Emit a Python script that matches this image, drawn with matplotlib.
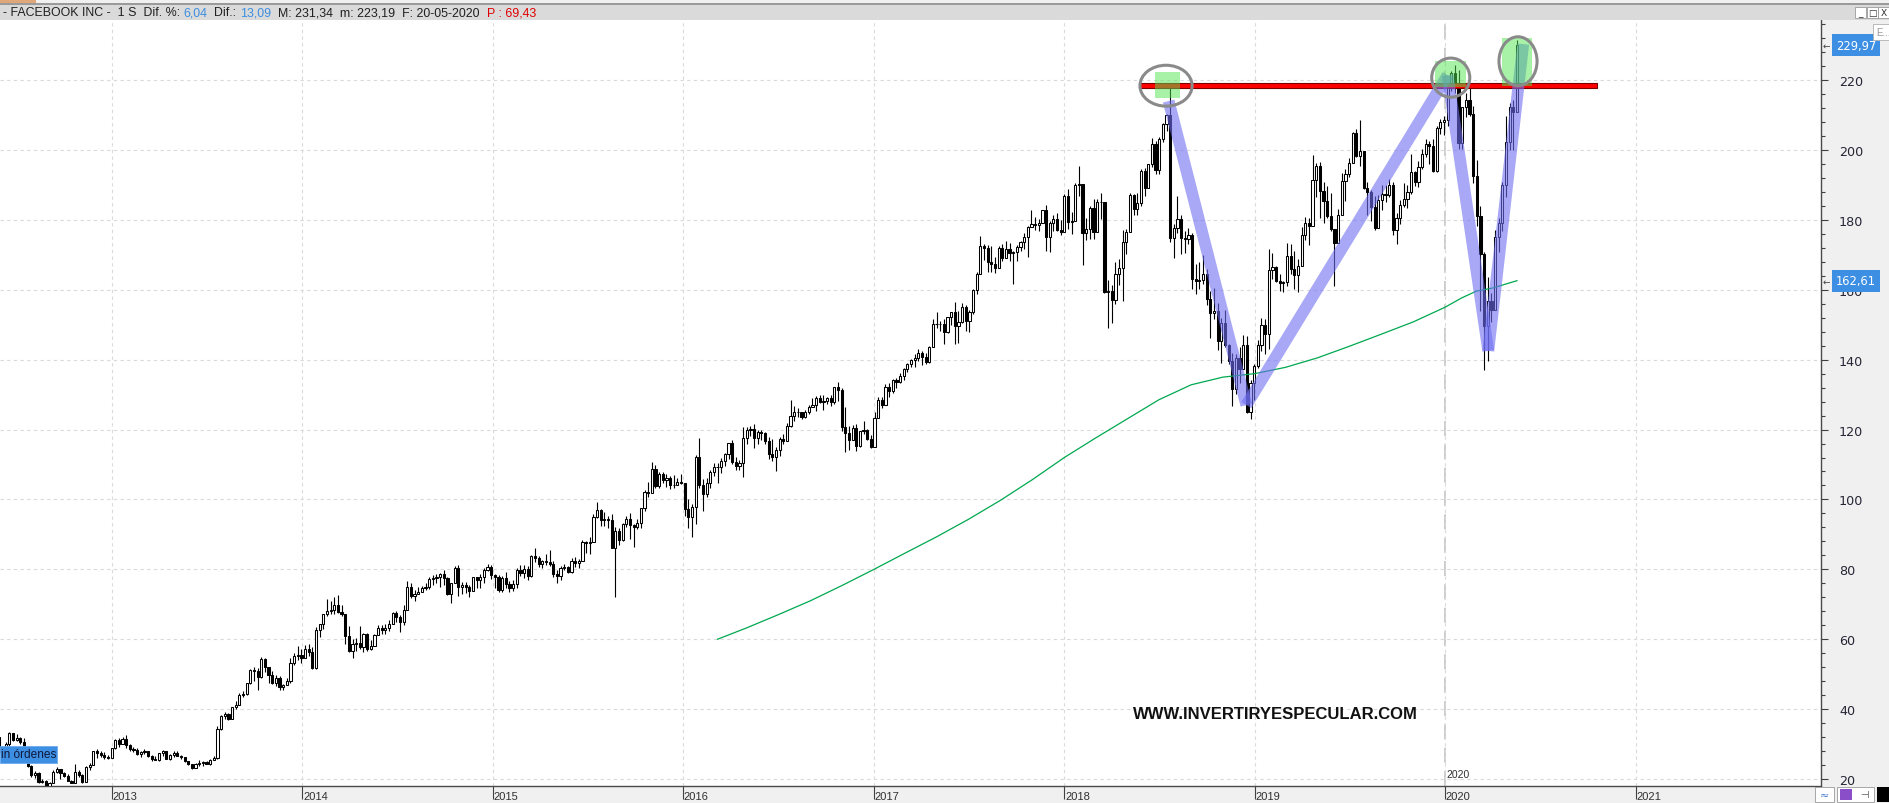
import numpy as np
import pandas as pd
import matplotlib
matplotlib.use("Agg")
import matplotlib.pyplot as plt
import matplotlib.dates as mdates
import matplotlib.transforms as mtransforms
from matplotlib.patches import Rectangle, Ellipse

# FACEBOOK INC, weekly candles: (high, low, close)
# each week is placed on its monday; open = previous close
IPO_OPEN = 42.05

W2012 = [(45.00, 38.00, 38.23), (36.66, 31.36, 31.91), (32.00, 27.45, 27.72), (28.20, 25.52, 27.10),
         (30.45, 26.84, 30.01), (33.45, 29.50, 33.05), (33.25, 30.75, 31.10), (32.90, 30.94, 31.73),
         (32.10, 30.00, 30.72), (31.60, 28.50, 28.76), (29.50, 23.55, 23.71), (23.95, 20.60, 21.09),
         (22.20, 20.38, 21.81), (22.00, 19.00, 19.05), (20.10, 18.75, 19.41), (19.60, 17.55, 18.06),
         (19.25, 17.73, 18.98), (22.50, 18.90, 21.87), (23.37, 21.85, 22.86), (22.90, 20.10, 21.66),
         (22.10, 20.50, 20.91), (21.50, 19.40, 19.52), (19.85, 18.80, 19.00), (24.25, 19.30, 21.94),
         (22.50, 20.70, 21.18), (21.50, 18.87, 19.21), (23.70, 19.30, 23.56), (24.50, 22.60, 24.00),
         (28.12, 24.10, 28.00), (28.50, 26.00, 27.49), (28.00, 26.30, 26.81), (27.80, 25.80, 26.26),
         (26.90, 25.60, 25.91)]

W2013 = [(28.93, 26.11, 28.76), (31.45, 28.65, 31.30), (31.71, 29.04, 30.14), (32.11, 30.10, 31.54),
         (32.51, 28.74, 29.73), (29.92, 27.97, 28.55), (29.05, 27.66, 28.32), (28.75, 26.84, 27.13),
         (28.10, 26.34, 27.78), (28.66, 27.25, 27.96), (28.06, 26.28, 26.65), (26.99, 25.26, 25.73),
         (26.45, 25.52, 25.58), (27.55, 25.13, 27.39), (28.34, 26.60, 28.02), (28.11, 25.71, 25.73),
         (27.19, 25.56, 26.85), (28.15, 26.27, 27.57), (27.88, 26.52, 26.68), (26.92, 25.84, 26.25),
         (26.42, 24.73, 25.10), (25.28, 23.90, 24.35), (24.38, 22.79, 23.29), (24.55, 23.39, 24.37),
         (25.40, 23.73, 24.53), (25.04, 23.85, 24.88), (25.08, 24.22, 24.37), (25.83, 24.14, 25.48),
         (26.54, 25.39, 25.88), (35.20, 25.81, 34.36), (38.31, 34.05, 38.05), (39.16, 37.22, 38.50),
         (38.76, 36.80, 37.08), (40.69, 37.06, 40.55), (42.26, 40.05, 41.29), (44.71, 41.50, 43.95),
         (45.08, 43.51, 44.31), (47.60, 44.15, 47.49), (51.60, 47.19, 51.24), (51.94, 48.00, 51.04),
         (51.79, 45.50, 49.11), (54.83, 48.88, 54.22), (54.70, 50.59, 51.95), (51.28, 47.35, 49.75),
         (50.90, 47.20, 47.53), (49.66, 46.54, 49.01), (49.40, 45.53, 46.23), (47.21, 45.53, 47.01),
         (48.97, 46.78, 47.94), (54.60, 47.36, 53.32), (55.96, 52.73, 55.12), (57.96, 53.98, 55.44)]

W2014 = [(57.20, 53.32, 54.56), (58.41, 54.52, 57.22), (58.58, 55.32, 56.30), (57.87, 51.60, 51.73),
         (63.37, 51.35, 62.57), (64.40, 60.50, 64.32), (67.30, 63.00, 67.09), (71.44, 66.56, 68.06),
         (71.00, 67.30, 68.46), (72.03, 67.11, 69.80), (72.59, 67.56, 67.72), (69.90, 66.61, 67.24),
         (67.21, 58.53, 60.97), (63.91, 56.27, 56.75), (60.13, 54.66, 58.53), (60.42, 56.50, 58.94),
         (63.71, 57.19, 57.71), (61.79, 56.26, 61.48), (61.71, 56.51, 57.24), (59.80, 56.80, 58.02),
         (61.48, 57.98, 61.35), (64.04, 61.38, 63.30), (64.16, 61.60, 62.50), (64.43, 61.46, 63.19),
         (65.64, 62.46, 64.50), (67.92, 64.53, 67.60), (68.00, 64.92, 66.29), (66.93, 62.21, 64.97),
         (69.69, 64.00, 68.42), (76.74, 69.00, 74.98), (75.99, 71.91, 72.36), (73.98, 70.89, 73.06),
         (74.88, 72.88, 73.63), (75.11, 73.43, 74.57), (75.99, 74.18, 74.82), (77.75, 74.30, 77.26),
         (78.49, 75.65, 77.48), (78.62, 76.21, 77.91), (79.06, 74.83, 78.78), (79.68, 75.60, 77.44),
         (77.74, 72.53, 72.91), (75.95, 70.32, 75.95), (80.90, 76.33, 80.42), (81.16, 72.51, 74.99),
         (76.49, 73.07, 75.60), (76.36, 73.35, 74.88), (75.45, 72.16, 73.75), (77.70, 73.81, 77.70),
         (77.94, 74.71, 76.84), (78.70, 74.59, 77.73), (80.48, 76.08, 79.88), (81.45, 79.51, 80.77)]

W2015 = [(81.16, 77.20, 78.45), (78.73, 74.61, 77.74), (78.42, 73.55, 74.05), (78.00, 73.57, 77.65),
         (79.22, 74.58, 75.91), (76.55, 73.45, 74.60), (76.81, 73.72, 75.74), (80.34, 74.74, 79.90),
         (81.37, 78.14, 78.97), (81.16, 77.63, 80.01), (81.00, 76.89, 78.05), (84.23, 77.70, 83.80),
         (86.07, 82.09, 83.30), (83.72, 80.70, 81.56), (82.81, 80.37, 82.32), (84.48, 81.30, 82.04),
         (85.60, 80.86, 81.62), (82.39, 77.69, 78.67), (79.84, 76.21, 78.10), (80.99, 77.06, 80.41),
         (81.48, 79.81, 80.55), (81.08, 79.00, 79.19), (83.24, 79.00, 82.44), (83.41, 80.54, 81.91),
         (82.92, 80.52, 82.51), (88.40, 82.84, 87.88), (88.13, 84.70, 87.55), (89.20, 84.47, 87.95),
         (95.70, 88.41, 94.97), (99.24, 94.79, 96.95), (97.21, 92.38, 94.01), (96.50, 92.44, 94.30),
         (95.15, 91.92, 94.21), (95.81, 86.03, 86.06), (92.00, 72.00, 91.01), (91.97, 86.92, 88.26),
         (93.15, 88.08, 92.90), (95.39, 92.00, 94.40), (96.20, 88.58, 92.77), (92.95, 86.50, 92.07),
         (94.50, 91.55, 93.24), (97.64, 91.72, 97.54), (102.59, 96.60, 102.19), (105.12, 100.60, 101.97),
         (110.65, 101.80, 108.76), (109.82, 103.32, 103.95), (107.89, 103.37, 107.32), (107.95, 104.57, 105.45),
         (107.17, 103.70, 106.18), (106.79, 102.85, 104.04), (107.00, 103.22, 104.04), (106.00, 104.04, 105.02),
         (107.36, 104.45, 104.66)]

W2016 = [(102.24, 95.40, 97.33), (100.24, 91.86, 94.97), (98.65, 89.37, 97.94), (112.84, 92.86, 112.21),
         (117.59, 103.40, 104.07), (105.85, 96.82, 101.61), (106.27, 100.75, 104.57), (108.29, 103.20, 107.92),
         (110.35, 106.75, 109.41), (110.31, 104.80, 109.36), (111.82, 107.48, 111.02), (113.25, 109.54, 112.95),
         (116.17, 111.60, 116.06), (116.98, 110.28, 110.63), (112.25, 108.51, 109.64), (111.29, 108.57, 110.56),
         (120.79, 106.31, 117.58), (120.75, 116.01, 119.81), (121.08, 118.28, 120.30), (121.59, 114.74, 117.65),
         (119.96, 115.97, 119.38), (119.75, 117.01, 118.93), (119.44, 115.90, 116.62), (117.85, 111.50, 113.02),
         (117.22, 110.95, 112.08), (114.97, 108.23, 114.19), (117.75, 112.47, 117.24), (118.69, 115.92, 116.86),
         (121.92, 116.69, 121.00), (128.33, 120.80, 123.94), (126.74, 122.32, 125.15), (126.08, 123.56, 124.96),
         (125.16, 122.90, 123.56), (125.48, 123.42, 124.96), (127.00, 124.44, 126.51), (129.12, 127.09, 127.10),
         (129.69, 125.41, 129.07), (130.00, 127.49, 127.96), (129.79, 125.62, 128.27), (129.23, 127.45, 128.99),
         (130.00, 126.88, 127.88), (132.23, 127.34, 132.07), (133.50, 128.11, 131.29), (131.94, 119.64, 120.75),
         (126.50, 113.55, 119.02), (120.96, 114.26, 117.02), (121.17, 117.24, 120.38), (121.50, 114.00, 115.40),
         (119.68, 115.03, 119.68), (122.50, 118.77, 119.87), (120.24, 116.98, 117.26), (118.41, 114.77, 115.05)]

W2017 = [(124.96, 115.51, 123.41), (129.27, 123.38, 128.34), (129.25, 126.08, 127.04), (133.14, 127.14, 132.18),
         (133.23, 129.29, 130.98), (134.49, 130.32, 134.19), (134.83, 131.78, 133.53), (136.18, 133.31, 135.44),
         (137.48, 134.24, 137.42), (139.03, 136.36, 138.71), (140.15, 137.79, 139.84), (141.62, 137.86, 140.34),
         (142.94, 139.73, 142.05), (142.44, 138.59, 140.78), (141.85, 138.78, 139.39), (143.90, 139.09, 143.68),
         (151.53, 143.99, 150.25), (153.60, 149.03, 150.24), (151.05, 148.24, 150.33), (151.52, 144.42, 148.06),
         (152.25, 147.56, 152.13), (153.63, 149.93, 153.63), (156.50, 144.56, 149.60), (153.84, 144.90, 150.64),
         (156.16, 150.57, 155.07), (155.65, 148.21, 150.98), (154.25, 147.80, 153.67), (160.12, 153.13, 159.97),
         (165.00, 158.85, 164.43), (175.49, 164.52, 172.45), (173.05, 168.42, 171.97), (172.73, 165.03, 168.08),
         (172.49, 164.96, 167.41), (169.40, 164.67, 166.32), (172.48, 166.33, 172.02), (173.00, 168.11, 169.15),
         (174.00, 169.23, 171.64), (173.49, 168.18, 170.54), (171.00, 161.56, 170.87), (172.94, 168.20, 172.23),
         (174.00, 171.02, 173.74), (176.25, 171.80, 174.98), (178.24, 169.34, 177.88), (182.90, 178.14, 178.92),
         (180.80, 177.09, 178.46), (180.29, 176.93, 179.00), (182.90, 180.44, 182.78), (184.25, 171.22, 175.10),
         (179.65, 170.80, 179.00), (181.48, 176.69, 180.18), (181.90, 176.84, 177.20), (179.84, 175.60, 176.46)]

W2018 = [(187.40, 177.68, 186.85), (188.90, 177.51, 179.37), (182.37, 176.03, 179.80), (190.66, 180.79, 190.00),
         (195.32, 186.91, 190.28), (190.27, 167.18, 176.11), (180.50, 174.37, 177.36), (183.99, 174.44, 183.29),
         (186.10, 174.53, 176.62), (185.90, 176.60, 185.23), (187.57, 180.22, 185.09), (177.17, 159.02, 159.39),
         (162.93, 149.02, 159.79), (161.42, 150.42, 157.20), (167.91, 155.82, 164.52), (168.87, 161.50, 166.28),
         (177.10, 156.80, 173.59), (177.50, 170.23, 176.61), (187.67, 177.41, 186.99), (187.46, 181.41, 183.20),
         (187.73, 181.30, 184.92), (194.53, 184.00, 193.99), (194.87, 186.82, 189.10), (195.85, 189.57, 195.85),
         (203.55, 195.11, 201.74), (202.49, 193.12, 194.32), (203.64, 193.23, 203.23), (207.80, 202.32, 207.32),
         (210.16, 205.38, 209.94), (218.62, 173.75, 174.89), (178.85, 169.00, 177.78), (186.79, 176.30, 180.26),
         (181.33, 170.27, 174.70), (176.79, 170.51, 174.65), (177.62, 172.99, 175.73), (176.20, 160.20, 163.04),
         (167.44, 158.87, 162.53), (167.99, 160.35, 162.93), (170.00, 161.70, 164.46), (165.88, 155.51, 157.33),
         (159.66, 146.22, 153.35), (160.55, 151.52, 154.05), (156.25, 142.82, 145.37), (151.99, 139.03, 150.35),
         (154.13, 143.70, 144.22), (144.50, 138.87, 139.53), (141.94, 126.85, 131.73), (141.50, 130.28, 140.61),
         (143.66, 133.45, 137.42), (147.19, 138.72, 144.06), (146.71, 124.72, 124.95), (134.24, 123.02, 133.20)]

W2019 = [(138.69, 128.56, 138.05), (145.67, 137.51, 144.20), (152.05, 142.53, 150.04), (151.51, 141.49, 147.47),
         (171.68, 143.03, 165.71), (170.66, 163.11, 166.38), (166.68, 162.31, 162.50), (164.50, 159.59, 161.89),
         (162.43, 159.32, 162.28), (173.32, 161.22, 169.60), (173.19, 164.58, 165.98), (171.04, 160.27, 164.34),
         (168.79, 159.28, 166.69), (177.95, 167.46, 175.72), (180.73, 174.20, 179.10), (180.62, 172.84, 178.28),
         (198.48, 178.21, 191.49), (196.18, 186.62, 195.47), (196.50, 180.54, 188.34), (190.90, 179.04, 185.30),
         (189.74, 180.54, 181.06), (187.58, 176.90, 177.47), (175.96, 161.01, 173.35), (183.20, 173.34, 181.33),
         (193.50, 182.75, 191.14), (194.52, 185.28, 193.00), (197.69, 192.24, 196.40), (205.09, 196.23, 204.87),
         (206.00, 198.08, 198.36), (208.66, 195.30, 199.75), (199.00, 188.94, 189.02), (190.81, 181.28, 187.85),
         (188.56, 179.68, 183.70), (186.95, 177.22, 177.75), (187.00, 178.21, 185.67), (189.89, 182.94, 187.49),
         (189.99, 185.22, 187.19), (191.75, 186.52, 189.93), (190.91, 175.66, 177.10), (182.00, 173.10, 180.45),
         (185.65, 178.96, 184.19), (190.43, 183.57, 185.85), (189.99, 183.31, 187.89), (198.91, 187.46, 193.62),
         (193.98, 189.65, 190.84), (196.85, 189.55, 195.10), (200.23, 194.49, 198.82), (203.14, 197.94, 201.64),
         (202.49, 195.93, 201.05), (203.14, 193.64, 194.11), (206.79, 193.68, 206.30), (208.93, 204.72, 208.10)]

W2020 = [(209.79, 204.25, 208.67), (218.88, 206.91, 218.30), (222.56, 216.93, 222.14), (224.20, 216.43, 217.94),
         (223.00, 200.42, 201.91), (211.82, 200.37, 212.33), (216.18, 209.57, 214.18), (218.77, 209.75, 210.18),
         (212.53, 190.56, 192.47), (197.13, 178.18, 181.09), (183.85, 153.89, 170.28), (170.85, 137.10, 149.73),
         (163.73, 139.50, 156.79), (159.10, 150.83, 154.18), (177.13, 160.20, 175.19), (180.56, 170.89, 179.24),
         (190.88, 176.90, 190.07), (209.69, 186.60, 202.27), (213.40, 200.04, 212.35), (214.27, 200.10, 210.88),
         (231.34, 211.32, 229.97)]

YEARS = [(W2012, "2012-05-14"), (W2013, "2012-12-31"), (W2014, "2013-12-30"), (W2015, "2014-12-29"),
         (W2016, "2016-01-04"), (W2017, "2017-01-02"), (W2018, "2018-01-01"), (W2019, "2018-12-31"),
         (W2020, "2019-12-30")]

# green moving average
MA_DATES = ["2016-03-07", "2016-05-01", "2016-07-01", "2016-09-01", "2016-11-01", "2017-01-01",
            "2017-03-01", "2017-05-01", "2017-07-01", "2017-09-01", "2017-11-01", "2018-01-01",
            "2018-03-01", "2018-05-01", "2018-07-01", "2018-09-01", "2018-11-01", "2019-01-01",
            "2019-03-01", "2019-05-01", "2019-07-01", "2019-09-01", "2019-11-01", "2020-01-01",
            "2020-02-01", "2020-03-01", "2020-04-01", "2020-05-18"]
MA_VALUES = [60.0, 63.2, 67.0, 71.0, 75.4, 80.0,
             84.6, 89.3, 94.3, 99.8, 105.7, 112.0,
             117.5, 123.0, 128.5, 132.8, 135.0, 136.0,
             137.8, 140.5, 143.8, 147.3, 150.8, 155.0,
             157.6, 159.6, 160.5, 162.6]

YEAR_TICKS = [2013, 2014, 2015, 2016, 2017, 2018, 2019, 2020, 2021]

HEADER = [("- FACEBOOK INC -  1 S  Dif. %: ", "#202020"), ("6,04", "#3a8ee0"), ("  Dif.: ", "#202020"),
          ("13,09", "#3a8ee0"), ("  M: 231,34  m: 223,19  F: 20-05-2020  ", "#202020"), ("P : 69,43", "#e00000")]
LAST_TAG = "229,97"
MA_TAG = "162,61"

# drawings on the chart
RES_START, RES_END, RES_LO, RES_HI = "2018-05-26", "2020-10-19", 217.6, 219.05
TREND = [("2018-07-20", 214.0), ("2018-12-16", 127.0), ("2020-01-06", 221.4),
         ("2020-03-24", 142.5), ("2020-05-30", 230.3)]
SQUARES = [("2018-06-24", "2018-08-11", 214.8, 222.3),
           ("2019-12-12", "2020-02-10", 218.0, 225.4),
           ("2020-04-20", "2020-06-15", 218.3, 232.0)]
CIRCLES = [("2018-07-15", 218.4, 100, 11.7),
           ("2020-01-12", 220.7, 73, 11.2),
           ("2020-05-20", 225.4, 73, 14.0)]

W, H, DPI = 1890, 804, 100
FONT = "Liberation Sans"


def build_frame():
    frames = []
    for rows, start in YEARS:
        idx = pd.date_range(start, periods=len(rows), freq="7D")
        frames.append(pd.DataFrame(rows, index=idx, columns=["high", "low", "close"]))
    df = pd.concat(frames)
    df["open"] = df["close"].shift(1).fillna(IPO_OPEN)
    return df


def dn(s):
    return mdates.date2num(pd.Timestamp(s))


def px(x, y):
    return x / W, 1 - y / H


def fig_box(fig, x0, y0, x1, y1, **kw):
    fig.patches.append(Rectangle(px(x0, y1), (x1 - x0) / W, (y1 - y0) / H,
                                 transform=fig.transFigure, **kw))


def main():
    df = build_frame()
    fig = plt.figure(figsize=(W / DPI, H / DPI), dpi=DPI, facecolor="#f0f0f0")
    ax = fig.add_axes([0, (H - 787) / H, 1821 / W, (787 - 21) / H], facecolor="white")

    x = mdates.date2num(df.index)
    up = (df["close"] >= df["open"]).values
    body = (df["close"] - df["open"]).values
    ax.vlines(x, df["low"], df["high"], color="black", lw=0.8, zorder=3)
    ax.bar(x[up], body[up], bottom=df["open"].values[up], width=4.2, color="white",
           edgecolor="black", lw=0.75, zorder=4)
    ax.bar(x[~up], body[~up], bottom=df["open"].values[~up], width=4.2, color="black",
           edgecolor="black", lw=0.75, zorder=4)
    ax.plot([dn(d) for d in MA_DATES], MA_VALUES, color="#00a84f", lw=0.9, zorder=5)

    # resistance line
    ax.add_patch(Rectangle((dn(RES_START), RES_LO), dn(RES_END) - dn(RES_START), RES_HI - RES_LO,
                           facecolor="#ff0000", edgecolor="#7a0000", lw=0.8, zorder=6))
    # zig-zag
    tx = [dn(d) for d, _ in TREND]
    ty = [p for _, p in TREND]
    for i in range(len(tx) - 1):
        ax.plot(tx[i:i + 2], ty[i:i + 2], color="#6e6ef2", alpha=0.6, lw=8.5,
                solid_capstyle="butt", zorder=7)
    for d0, d1, lo, hi in SQUARES:
        ax.add_patch(Rectangle((dn(d0), lo), dn(d1) - dn(d0), hi - lo, facecolor="#50e650",
                               alpha=0.5, lw=0, zorder=8))
    for d, p, wd, ht in CIRCLES:
        ax.add_patch(Ellipse((dn(d), p), wd, ht, facecolor="none", edgecolor="#8a8a8a",
                             lw=2.2, zorder=9))

    ax.set_xlim(dn("2012-05-31"), dn("2021-12-22"))
    ax.set_ylim(18.0, 237.2)

    ax.yaxis.tick_right()
    ax.set_yticks(np.arange(20, 221, 20))
    ax.set_yticks(np.arange(20, 237, 4), minor=True)
    ax.tick_params(axis="y", which="major", length=5, width=0.8, color="#404040", pad=8,
                   labelsize=9.2, labelcolor="#252535")
    ax.tick_params(axis="y", which="minor", length=3, width=0.8, color="#404040")
    for lbl in ax.get_yticklabels():
        lbl.set_family("DejaVu Sans")

    yt = [dn(f"{y}-01-01") for y in YEAR_TICKS]
    ax.set_xticks(yt)
    ax.set_xticklabels([])
    ax.tick_params(axis="x", length=9, width=0.8, color="#404040")
    trans = mtransforms.blended_transform_factory(ax.transData, ax.transAxes)
    for y, t in zip(YEAR_TICKS, yt):
        ax.text(t + 1.5, -0.0125, str(y), transform=trans, ha="left", va="center",
                fontsize=8, family=FONT, color="#303030", clip_on=False)

    ax.grid(True, axis="both", color="#dadada", lw=0.8, linestyle=(0, (3, 3)), zorder=0)
    ax.axvline(dn("2020-01-01"), color="#c4c4c4", lw=1.2, linestyle=(0, (9, 5)), zorder=1)
    ax.text(dn("2020-01-01") + 2, 21.5, "2020", fontsize=7.5, family=FONT, color="#303030",
            ha="left", va="center", zorder=2)

    for side in ["top", "left"]:
        ax.spines[side].set_visible(False)
    for side in ["right", "bottom"]:
        ax.spines[side].set_color("#4a4a4a")
        ax.spines[side].set_linewidth(1.0)

    # header bar
    fig_box(fig, 0, 4, W, 21, facecolor="#dadada", edgecolor="none", zorder=0)
    fig_box(fig, 0, 4, W, 5.5, facecolor="#9a9a9a", edgecolor="none", zorder=1)
    fig_box(fig, 0, 0, 36, 4, facecolor="#e0a878", edgecolor="none", zorder=1)
    renderer = fig.canvas.get_renderer()
    xpos = 3
    for txt, col in HEADER:
        t = fig.text(*px(xpos, 13.5), txt, color=col, fontsize=8.9, family=FONT, ha="left", va="center")
        xpos += t.get_window_extent(renderer).width

    # window buttons and little box top right
    for i, g in enumerate(["_", "□", "X"]):
        x0 = 1855 + i * 11.7
        fig_box(fig, x0, 8, x0 + 11, 19, facecolor="white", edgecolor="#9a9a9a", lw=0.6, zorder=2)
        fig.text(*px(x0 + 5.5, 13.5), g, fontsize=6.5, ha="center", va="center", color="#303030", zorder=3)
    fig_box(fig, 1873, 25, 1893, 41, facecolor="white", edgecolor="#b0b0b0", lw=0.6, zorder=2)
    fig.text(*px(1876, 33), "E...", fontsize=7, family=FONT, color="#9a9a9a", ha="left", va="center", zorder=3)

    # value tags on price axis
    tag_tr = mtransforms.blended_transform_factory(fig.transFigure, ax.transData)
    for val, txt in [(df["close"].iloc[-1], LAST_TAG), (MA_VALUES[-1], MA_TAG)]:
        ax.add_patch(Rectangle((1832 / W, val - 3.2), 48 / W, 6.4, transform=tag_tr, facecolor="#3d8fe3",
                               edgecolor="none", clip_on=False, zorder=10))
        ax.text(1856 / W, val, txt, transform=tag_tr, ha="center", va="center", color="white",
                fontsize=8.3, family="DejaVu Sans", clip_on=False, zorder=11)
        ax.text(1826 / W, val, "←", transform=tag_tr, ha="center", va="center", color="#404040",
                fontsize=6.5, clip_on=False, zorder=11)

    # "sin ordenes" label bottom left
    fig_box(fig, 0, 747, 57, 764, facecolor="#3d8fe3", edgecolor="#6aa9ee", lw=0.6, zorder=5)
    fig.text(*px(1, 755.5), "in órdenes", fontsize=8.6, family=FONT, color="#10183a",
             ha="left", va="center", zorder=6)

    # watermark
    fig.text(*px(1133, 715), "WWW.INVERTIRYESPECULAR.COM", fontsize=12, family=FONT,
             weight="bold", color="#111111", ha="left", va="center", zorder=6)

    # icons bottom right
    fig_box(fig, 1815, 788, 1834, 803, facecolor="white", edgecolor="#9a9a9a", lw=0.6, zorder=2)
    fig.text(*px(1824.5, 795.5), "≈", fontsize=8, ha="center", va="center", color="#4a7fd0", zorder=3)
    fig_box(fig, 1837, 788, 1874, 803, facecolor="white", edgecolor="#9a9a9a", lw=0.6, zorder=2)
    fig_box(fig, 1840, 790, 1852, 801, facecolor="#8a4fc8", edgecolor="none", zorder=3)
    fig.text(*px(1864, 795.5), "⊣", fontsize=7, ha="center", va="center", color="#404040", zorder=3)
    fig_box(fig, 1877, 788, 1890, 803, facecolor="black", edgecolor="none", zorder=2)

    fig.savefig("out.png", dpi=DPI, facecolor=fig.get_facecolor())


if __name__ == "__main__":
    main()
